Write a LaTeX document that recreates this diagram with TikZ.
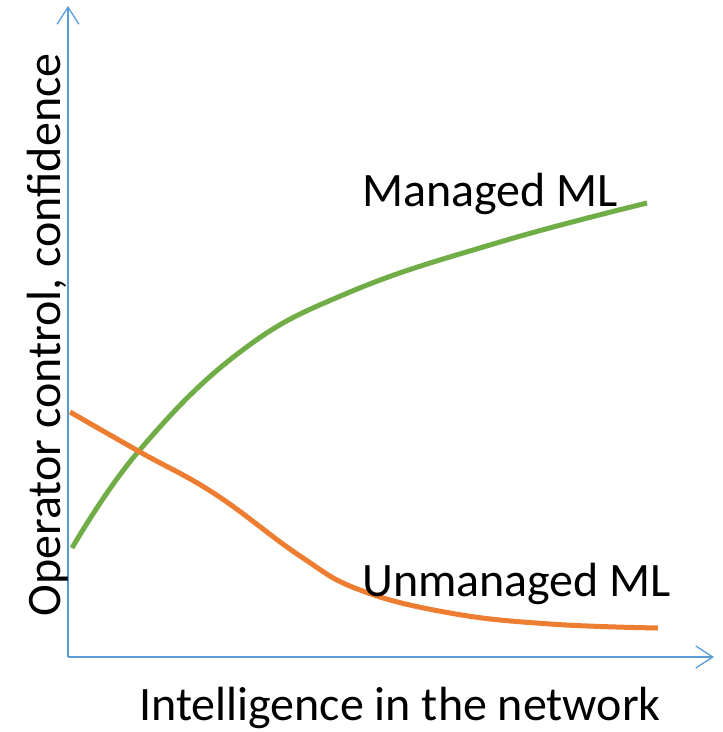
\documentclass[tikz,border=0pt]{standalone}
\usepackage{fontspec}
\setmainfont{Carlito}
\usetikzlibrary{arrows.meta}
\definecolor{axisblue}{HTML}{5B9BD5}
\definecolor{mlgreen}{HTML}{70AD47}
\definecolor{mlorange}{HTML}{ED7D31}
\begin{document}
\begin{tikzpicture}[x=1pt,y=-1pt,
  axis/.style={draw=axisblue,line width=1.3pt,-{Straight Barb[length=17pt,width=22pt,line width=1.3pt]}},
  curve/.style={line width=5pt,smooth,tension=0.7},
  lbl/.style={inner sep=0pt,font=\fontsize{48}{56}\selectfont}]
\useasboundingbox (0,0) rectangle (723,732);
% axes
\coordinate (origin) at (68,657);
\coordinate (ytop) at (68,6);
\coordinate (xend) at (714,657);
\draw[axis] (origin) -- (ytop);
\draw[axis] (origin) -- (xend);
% curves
\draw[mlgreen,curve] plot coordinates {(72,548) (138,452) (240,352) (350,292) (500,242) (647,203)};
\draw[mlorange,curve] plot coordinates {(70,412) (140,452) (215,494) (300,556) (360,590) (450,613) (550,624) (658,628)};
% labels
\node[lbl,anchor=base west] (managed) at (362,206) {Managed ML};
\node[lbl,anchor=base west] (unmanaged) at (362,596) {Unmanaged ML};
\node[lbl] (xlabel) at (400,708) {Intelligence in the network};
\node[lbl,rotate=90] (ylabel) at (48,335) {Operator control, confidence};
\end{tikzpicture}
\end{document}
